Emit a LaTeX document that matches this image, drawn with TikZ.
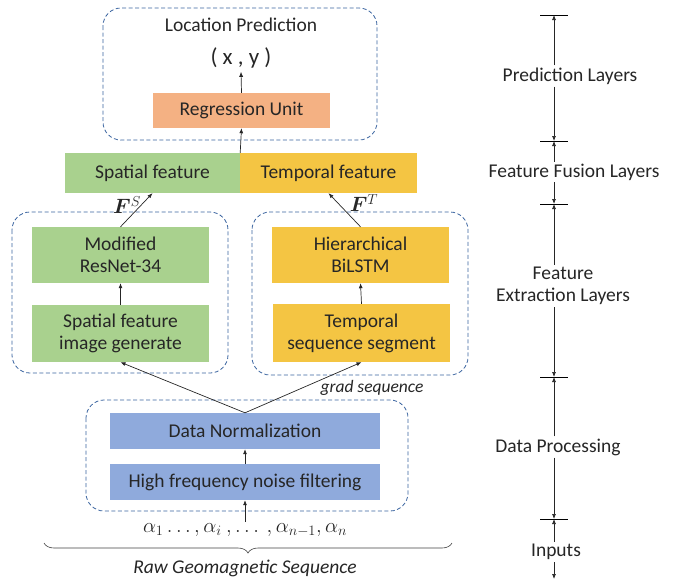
\documentclass[tikz,border=0pt]{standalone}
\usepackage{amsmath, amssymb, bm}
\usepackage{fontspec}
\setmainfont{Carlito}
\usepackage{xcolor}
\usepackage{tikz}
\usetikzlibrary{arrows.meta, decorations.pathreplacing}

\definecolor{boxgreen}{HTML}{A9D18E}
\definecolor{boxorange}{HTML}{F4B183}
\definecolor{boxyellow}{HTML}{F4C543}
\definecolor{boxblue}{HTML}{8FAADC}
\definecolor{groupblue}{HTML}{3A64A0}
\definecolor{txtgray}{HTML}{262626}

\begin{document}
\begin{tikzpicture}[x=1pt, y=-1pt,
        every node/.style={text=txtgray, font=\fontsize{19.5}{22}\selectfont},
        block/.style={inner sep=0pt, align=center},
        group/.style={draw=groupblue, dash pattern=on 4pt off 2.5pt, rounded corners=18pt, line width=0.8pt},
        arr/.style={-{Latex[length=5pt, width=4pt]}, line width=0.7pt, draw=black!85},
        layer/.style={align=center, fill=white, inner sep=2pt}]
    \useasboundingbox (0,0) rectangle (674,582);

    % prediction part
    \draw[group] (103,8) rectangle (377,140);
    \node (title) at (241,25) {Location Prediction};
    \node[font=\fontsize{23}{26}\selectfont] (xy) at (241,58) {( x , y )};
    \node[block, fill=boxorange, minimum width=177pt, minimum height=35pt] (reg) at (241.5,110.5) {Regression Unit};
    \draw[arr] (reg.north) -- (xy.south);

    % fusion
    \node[block, fill=boxgreen, minimum width=175pt, minimum height=40pt] (spat) at (152.5,173) {Spatial feature};
    \node[block, fill=boxyellow, minimum width=177pt, minimum height=40pt] (temp) at (328.5,173) {Temporal feature};
    \draw[arr] (spat.north east) -- (reg.south);

    % extraction, left
    \draw[group] (12,212) rectangle (228,373);
    \node[block, fill=boxgreen, minimum width=177pt, minimum height=56pt] (resnet) at (120.5,255) {Modified\\ResNet-34};
    \node[block, fill=boxgreen, minimum width=177pt, minimum height=57pt] (sfig) at (120.5,333.5) {Spatial feature\\image generate};
    \draw[arr] (sfig.north) -- (resnet.south);
    \draw[arr] (resnet.north) -- (spat.south);
    \node (fs) at (127,205) {$\bm{F}^{S}$};

    % extraction, right
    \draw[group] (252,212) rectangle (468,375);
    \node[block, fill=boxyellow, minimum width=177pt, minimum height=56pt] (bilstm) at (360.5,255) {Hierarchical\\BiLSTM};
    \node[block, fill=boxyellow, minimum width=177pt, minimum height=58pt] (tss) at (361.5,333) {Temporal\\sequence segment};
    \draw[arr] (tss.north) -- (bilstm.south);
    \draw[arr] (bilstm.north) -- (temp.south);
    \node (ft) at (364,203) {$\bm{F}^{T}$};

    % data processing
    \draw[group] (86,400) rectangle (408,511);
    \node[block, fill=boxblue, minimum width=270pt, minimum height=36pt] (norm) at (245,431) {Data Normalization};
    \node[block, fill=boxblue, minimum width=270pt, minimum height=36pt] (filt) at (245,482) {High frequency noise filtering};
    \draw[arr] (filt.north) -- (norm.south);
    \draw[arr] (norm.north) -- (sfig.south);
    \draw[arr] (norm.north) -- (tss.south);
    \node[font=\fontsize{17.5}{20}\selectfont\itshape] (grad) at (372,388) {grad sequence};

    % inputs
    \node[inner sep=1pt] (alpha) at (245,530) {$\alpha_1 \ldots, \alpha_i\ , \ldots\ , \alpha_{n-1}, \alpha_n$};
    \draw[arr] (alpha.north) -- (filt.south);
    \draw[decorate, decoration={brace, amplitude=10pt}, line width=0.6pt, draw=black!75] (452,543) -- (44,543);
    \node[font=\fontsize{19.5}{22}\selectfont\itshape] (raw) at (245,568) {Raw Geomagnetic Sequence};

    % layer scale on the right
    \coordinate (t1) at (554,15);
    \coordinate (t2) at (554,141);
    \coordinate (t3) at (554,204);
    \coordinate (t4) at (554,377);
    \coordinate (t5) at (554,519);
    \coordinate (tend) at (554,579);
    \foreach \t in {t1,t2,t3,t4,t5}
        \draw[line width=0.8pt] (\t) ++(-14,0) -- ++(28,0);

    \node[layer] (pl) at (570,76) {Prediction Layers};
    \node[layer] (ffl) at (574,172) {Feature Fusion Layers};
    \node[layer] (fel) at (563,286) {Feature\\Extraction Layers};
    \node[layer] (dp) at (558,447) {Data Processing};
    \node[layer] (inp) at (556,552) {Inputs};

    \draw[arr] (pl.north -| t1) -- (t1);
    \draw[arr] (pl.south -| t1) -- (t2);
    \draw[arr] (ffl.north -| t1) -- (t2);
    \draw[arr] (ffl.south -| t1) -- (t3);
    \draw[arr] (fel.north -| t1) -- (t3);
    \draw[arr] (fel.south -| t1) -- (t4);
    \draw[arr] (dp.north -| t1) -- (t4);
    \draw[arr] (dp.south -| t1) -- (t5);
    \draw[arr] (inp.north -| t1) -- (t5);
    \draw[arr] (inp.south -| t1) -- (tend);
\end{tikzpicture}
\end{document}
